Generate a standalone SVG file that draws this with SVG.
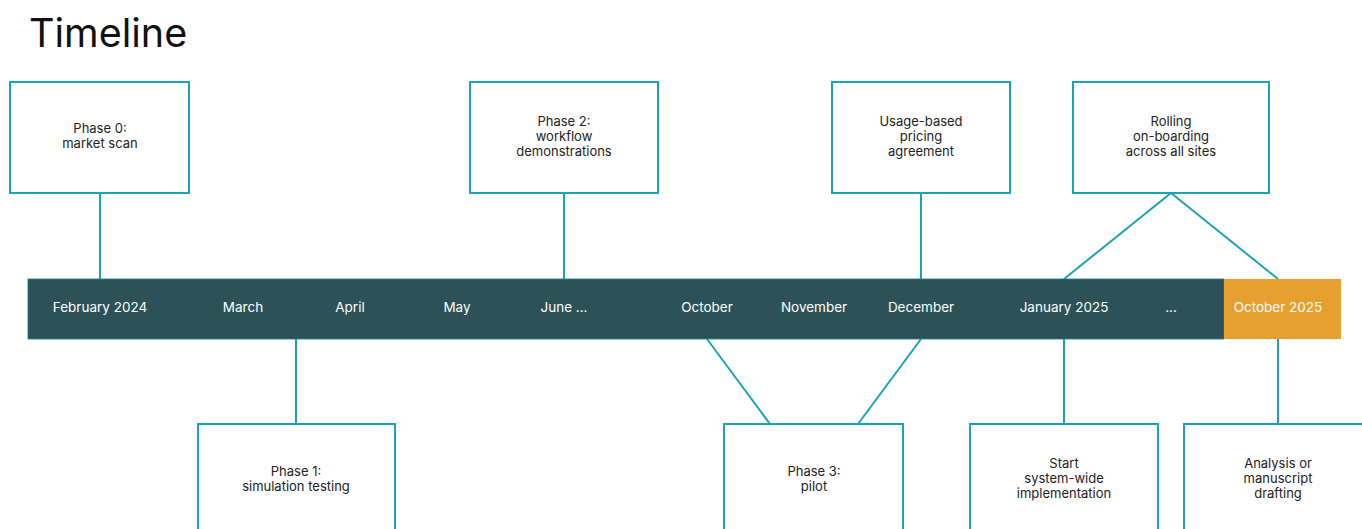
<svg xmlns="http://www.w3.org/2000/svg" width="1362" height="529" viewBox="0 0 1362 529">
<style>
.box{fill:#fff;stroke:#1aa3b6;stroke-width:2}
.con line{stroke:#1aa3b6;stroke-width:2}
.t{font-family:Inter,"Open Sans",sans-serif;font-size:13px;fill:#222;text-anchor:middle}
.m{font-family:Inter,"Open Sans",sans-serif;font-size:13.5px;fill:#fff;text-anchor:middle}
</style>
<rect width="1362" height="529" fill="#fff"/>
<text x="29" y="47" font-family="Inter,'Open Sans',sans-serif" font-size="39.5" fill="#111">Timeline</text>
<g id="connectors" class="con">
<line x1="100" y1="193" x2="100" y2="279"/>
<line x1="564" y1="193" x2="564" y2="279"/>
<line x1="921" y1="193" x2="921" y2="279"/>
<line x1="1171" y1="193" x2="1064" y2="279"/>
<line x1="1171" y1="193" x2="1278" y2="279"/>
<line x1="296" y1="339" x2="296" y2="424"/>
<line x1="707" y1="339" x2="770" y2="424"/>
<line x1="921" y1="339" x2="858" y2="424"/>
<line x1="1064" y1="339" x2="1064" y2="424"/>
<line x1="1278" y1="339" x2="1278" y2="424"/>
</g>
<g id="bar">
<rect x="28" y="279" width="1196" height="60" fill="#2c5257" stroke="#1b7f8a" stroke-width="0.8"/>
<rect x="1224" y="279" width="117" height="60" fill="#e6a030"/>
<text class="m" x="100" y="312">February 2024</text>
<text class="m" x="243" y="312">March</text>
<text class="m" x="350" y="312">April</text>
<text class="m" x="457" y="312">May</text>
<text class="m" x="564" y="312">June ...</text>
<text class="m" x="707" y="312">October</text>
<text class="m" x="814" y="312">November</text>
<text class="m" x="921" y="312">December</text>
<text class="m" x="1064" y="312">January 2025</text>
<text class="m" x="1171" y="312">...</text>
<text class="m" x="1278" y="312">October 2025</text>
</g>
<g id="phase0">
<rect class="box" x="10" y="82" width="179" height="111"/>
<text class="t" x="100" y="133">Phase 0:</text>
<text class="t" x="100" y="148">market scan</text>
</g>
<g id="phase2">
<rect class="box" x="470" y="82" width="188" height="111"/>
<text class="t" x="564" y="126">Phase 2:</text>
<text class="t" x="564" y="141">workflow</text>
<text class="t" x="564" y="156">demonstrations</text>
</g>
<g id="pricing">
<rect class="box" x="832" y="82" width="178" height="111"/>
<text class="t" x="921" y="126">Usage-based</text>
<text class="t" x="921" y="141">pricing</text>
<text class="t" x="921" y="156">agreement</text>
</g>
<g id="rolling">
<rect class="box" x="1073" y="82" width="196" height="111"/>
<text class="t" x="1171" y="126">Rolling</text>
<text class="t" x="1171" y="141">on-boarding</text>
<text class="t" x="1171" y="156">across all sites</text>
</g>
<g id="phase1">
<rect class="box" x="198" y="424" width="197" height="111"/>
<text class="t" x="296" y="476">Phase 1:</text>
<text class="t" x="296" y="491">simulation testing</text>
</g>
<g id="phase3">
<rect class="box" x="724" y="424" width="179" height="111"/>
<text class="t" x="814" y="476">Phase 3:</text>
<text class="t" x="814" y="491">pilot</text>
</g>
<g id="start">
<rect class="box" x="970" y="424" width="188" height="111"/>
<text class="t" x="1064" y="468">Start</text>
<text class="t" x="1064" y="483">system-wide</text>
<text class="t" x="1064" y="498">implementation</text>
</g>
<g id="analysis">
<rect class="box" x="1184" y="424" width="190" height="111"/>
<text class="t" x="1278" y="468">Analysis or</text>
<text class="t" x="1278" y="483">manuscript</text>
<text class="t" x="1278" y="498">drafting</text>
</g>
</svg>
